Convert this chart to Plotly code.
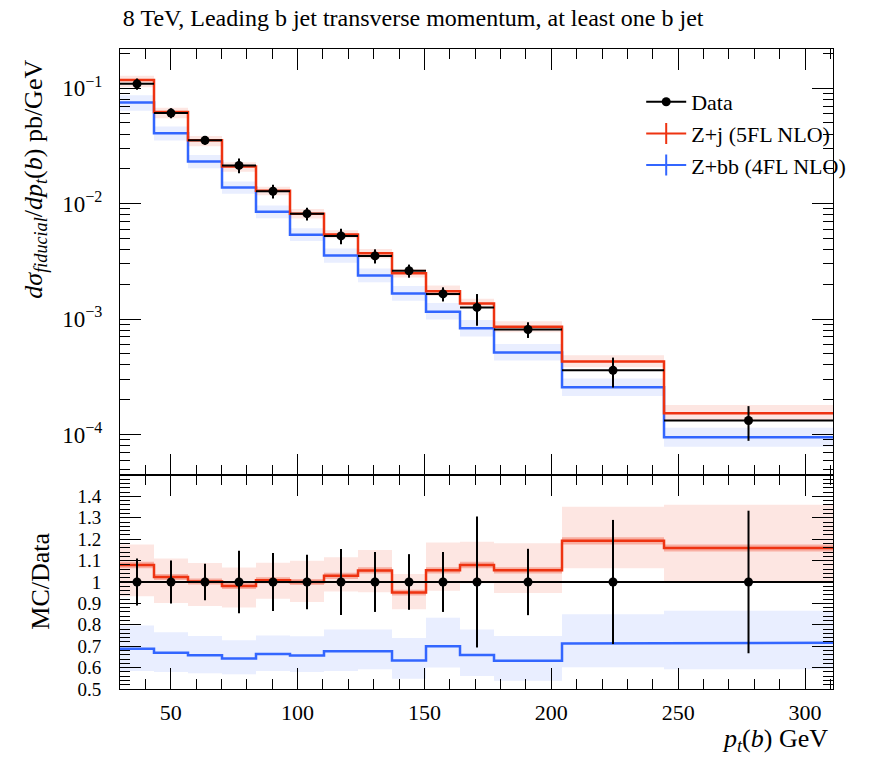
import plotly.graph_objects as go

# ---------------- data ----------------
bin_edges = [30.0, 43.4, 56.8, 70.2, 83.6, 97.0, 110.4, 123.8, 137.2, 150.6,
             164.0, 177.4, 204.2, 244.4, 311.0]

data_vals = [0.109, 0.0608, 0.0353, 0.0214, 0.0128, 0.00818, 0.00525, 0.00352,
             0.00262, 0.00165, 0.00126, 0.000811, 0.000359, 0.000132]
data_relerr = [0.11, 0.10, 0.085, 0.146, 0.136, 0.127, 0.154, 0.14, 0.13,
               0.14, 0.306, 0.155, 0.29, 0.333]

zj_vals = [0.1177, 0.0622, 0.0354, 0.0210, 0.0129, 0.00818, 0.00540, 0.00371,
           0.00249, 0.00174, 0.00136, 0.000855, 0.000428, 0.000153]
zj_err_up = [0.088, 0.085, 0.086, 0.088, 0.082, 0.099, 0.085, 0.091, 0.091,
             0.123, 0.101, 0.120, 0.134, 0.174]
zj_err_dn = [0.136, 0.118, 0.115, 0.103, 0.086, 0.093, 0.071, 0.097, 0.082,
             0.090, 0.079, 0.100, 0.107, 0.136]
zj_stat = [0.014] * 14

zbb_vals = [0.0750, 0.0407, 0.0232, 0.01376, 0.00849, 0.00537, 0.00355, 0.00238,
            0.00166, 0.001155, 0.00083, 0.000513, 0.000256, 0.0000945]
zbb_err_up = [0.158, 0.143, 0.137, 0.131, 0.131, 0.137, 0.151, 0.151, 0.165,
              0.190, 0.181, 0.182, 0.191, 0.209]
zbb_err_dn = [0.151, 0.134, 0.128, 0.115, 0.119, 0.117, 0.136, 0.124, 0.135,
              0.143, 0.149, 0.149, 0.157, 0.173]

top_tickvals = [1e-4, 1e-3, 1e-2, 1e-1]
top_ticktext = ["10<sup>−4</sup>", "10<sup>−3</sup>", "10<sup>−2</sup>", "10<sup>−1</sup>"]
ratio_tickvals = [0.5, 0.6, 0.7, 0.8, 0.9, 1.0, 1.1, 1.2, 1.3, 1.4]
ratio_ticktext = ["0.5", "0.6", "0.7", "0.8", "0.9", "1", "1.1", "1.2", "1.3", "1.4"]

# ---------------- styling ----------------
FONT = "Liberation Serif"
RED = "#EE3311"
BLUE = "#3366FF"
RED_BAND = "rgba(238,51,17,0.12)"
RED_STAT = "rgba(238,51,17,0.30)"
BLUE_BAND = "rgba(51,102,255,0.11)"

PLOT_TOP, PLOT_BOTTOM, SPLIT_PIX = 49.0, 689.5, 475.3
PLOT_H = PLOT_BOTTOM - PLOT_TOP


def py(pix):
    return (PLOT_BOTTOM - pix) / PLOT_H


def steps(edges, vals):
    xs, ys = [], []
    for i, v in enumerate(vals):
        xs += [edges[i], edges[i + 1]]
        ys += [v, v]
    return xs, ys


def band(edges, lo, hi):
    xu, yu = steps(edges, hi)
    xl, yl = steps(edges, lo)
    return xu + xl[::-1], yu + yl[::-1]


centers = [(bin_edges[i] + bin_edges[i + 1]) / 2 for i in range(len(data_vals))]
halfw = [(bin_edges[i + 1] - bin_edges[i]) / 2 for i in range(len(data_vals))]

fig = go.Figure()


def add_mc(vals, up, dn, stat, color, bandcol, xa, ya, norm):
    v = [vals[i] / norm[i] for i in range(len(vals))]
    hi = [v[i] * (1 + up[i]) for i in range(len(v))]
    lo = [v[i] * (1 - dn[i]) for i in range(len(v))]
    bx, by = band(bin_edges, lo, hi)
    fig.add_trace(go.Scatter(x=bx, y=by, fill="toself", fillcolor=bandcol, mode="lines",
                             line=dict(width=0), hoverinfo="skip", showlegend=False,
                             xaxis=xa, yaxis=ya))
    if stat is not None:
        shi = [v[i] * (1 + stat[i]) for i in range(len(v))]
        slo = [v[i] * (1 - stat[i]) for i in range(len(v))]
        sx, sy = band(bin_edges, slo, shi)
        fig.add_trace(go.Scatter(x=sx, y=sy, fill="toself", fillcolor=RED_STAT, mode="lines",
                                 line=dict(width=0), hoverinfo="skip", showlegend=False,
                                 xaxis=xa, yaxis=ya))
    lx, ly = steps(bin_edges, v)
    fig.add_trace(go.Scatter(x=lx, y=ly, mode="lines", line=dict(color=color, width=2.5),
                             showlegend=False, xaxis=xa, yaxis=ya))


ones = [1.0] * len(data_vals)
# top panel
add_mc(zbb_vals, zbb_err_up, zbb_err_dn, None, BLUE, BLUE_BAND, "x", "y", ones)
add_mc(zj_vals, zj_err_up, zj_err_dn, zj_stat, RED, RED_BAND, "x", "y", ones)
fig.add_trace(go.Scatter(
    x=centers, y=data_vals, mode="markers",
    marker=dict(color="black", size=9),
    error_y=dict(type="data", array=[data_vals[i] * data_relerr[i] for i in range(len(data_vals))],
                 color="black", thickness=2, width=0),
    error_x=dict(type="data", array=halfw, color="black", thickness=2, width=0),
    showlegend=False, xaxis="x", yaxis="y"))

# ratio panel
add_mc(zbb_vals, zbb_err_up, zbb_err_dn, None, BLUE, BLUE_BAND, "x2", "y2", data_vals)
add_mc(zj_vals, zj_err_up, zj_err_dn, zj_stat, RED, RED_BAND, "x2", "y2", data_vals)
fig.add_trace(go.Scatter(
    x=centers, y=ones, mode="markers",
    marker=dict(color="black", size=9),
    error_y=dict(type="data", array=data_relerr, color="black", thickness=2, width=0),
    error_x=dict(type="data", array=halfw, color="black", thickness=2, width=0),
    showlegend=False, xaxis="x2", yaxis="y2"))

# legend entries
fig.add_trace(go.Scatter(x=[None], y=[None], mode="lines+markers", name="Data",
                         line=dict(color="black", width=2),
                         marker=dict(color="black", size=9, symbol="circle")))
fig.add_trace(go.Scatter(x=[None], y=[None], mode="lines+markers", name="Z+j (5FL NLO)",
                         line=dict(color=RED, width=2),
                         marker=dict(color=RED, size=15, symbol="line-ns-open",
                                     line=dict(color=RED, width=2))))
fig.add_trace(go.Scatter(x=[None], y=[None], mode="lines+markers", name="Z+bb (4FL NLO)",
                         line=dict(color=BLUE, width=2),
                         marker=dict(color=BLUE, size=15, symbol="line-ns-open",
                                     line=dict(color=BLUE, width=2))))

split = py(SPLIT_PIX)
xcommon = dict(range=[30, 311], showgrid=False, zeroline=False, showline=True,
               linecolor="black", linewidth=1, mirror="allticks",
               ticks="inside", ticklen=21, tickwidth=1, tickcolor="black",
               tick0=0, dtick=50,
               minor=dict(ticks="inside", ticklen=10, dtick=10, tick0=0,
                          tickcolor="black", tickwidth=1, showgrid=False))

fig.update_layout(
    width=877, height=757,
    margin=dict(l=120, r=44, t=PLOT_TOP, b=757 - PLOT_BOTTOM),
    paper_bgcolor="white", plot_bgcolor="white",
    font=dict(family=FONT, size=20, color="black"),
    xaxis=dict(**xcommon, anchor="y", showticklabels=False),
    xaxis2=dict(**xcommon, anchor="y2", matches="x", showticklabels=True,
                tickfont=dict(size=22), ticklabelstandoff=4),
    yaxis=dict(type="log", domain=[split, 1], range=[-4.351, -0.661],
               showgrid=False, zeroline=False, showline=True, linecolor="black",
               linewidth=1, mirror="allticks", ticks="inside", ticklen=21,
               tickwidth=1, tickcolor="black", tickmode="array",
               tickvals=top_tickvals, ticktext=top_ticktext, tickfont=dict(size=23),
               ticklabelstandoff=12,
               minor=dict(ticks="inside", ticklen=10, dtick="D1", tickcolor="black",
                          tickwidth=1, showgrid=False)),
    yaxis2=dict(domain=[0, split], range=[0.5, 1.5],
                showgrid=False, zeroline=False, showline=True, linecolor="black",
                linewidth=1, mirror="allticks", ticks="inside", ticklen=21,
                tickwidth=1, tickcolor="black", tickmode="array",
                tickvals=ratio_tickvals, ticktext=ratio_ticktext, tickfont=dict(size=19),
                ticklabelstandoff=14,
                minor=dict(ticks="inside", ticklen=10, dtick=0.02, tick0=0.5,
                           tickcolor="black", tickwidth=1, showgrid=False)),
    title=dict(text="8 TeV, Leading b jet transverse momentum, at least one b jet",
               x=0.004, xref="paper", xanchor="left",
               y=1 - 18 / 757, yref="container", yanchor="middle",
               font=dict(size=24, family=FONT)),
    legend=dict(x=0.731, y=py(81), xanchor="left", yanchor="top",
                bgcolor="rgba(0,0,0,0)", font=dict(size=22, family=FONT),
                itemwidth=40),
    showlegend=True,
)

fig.add_annotation(text="<i>dσ</i><sub><i>fiducial</i></sub>/<i>dp</i><sub><i>t</i></sub>(<i>b</i>) pb/GeV",
                   xref="paper", yref="paper", x=-0.119, y=py(58), xanchor="center",
                   yanchor="top", textangle=-90, showarrow=False, font=dict(size=26))
fig.add_annotation(text="MC/Data", xref="paper", yref="paper", x=-0.112,
                   y=py(582), xanchor="center", yanchor="middle", textangle=-90,
                   showarrow=False, font=dict(size=26))
fig.add_annotation(text="<i>p</i><sub><i>t</i></sub>(<i>b</i>) GeV", xref="paper", yref="paper",
                   x=0.996, y=py(741), xanchor="right", yanchor="middle",
                   showarrow=False, font=dict(size=26))

fig.write_html("out.html")
